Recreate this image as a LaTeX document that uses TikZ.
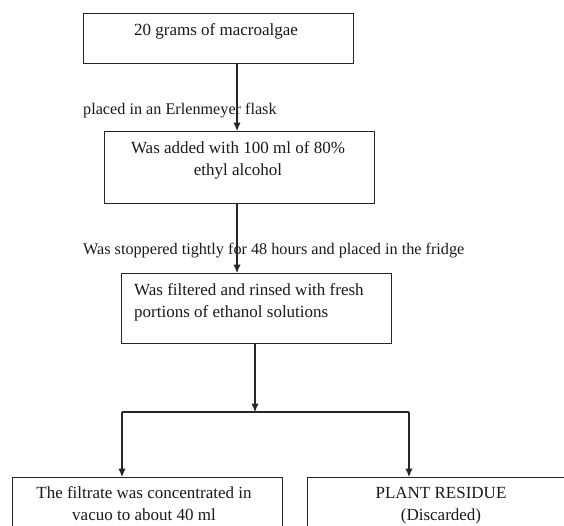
\documentclass[tikz,border=0pt]{standalone}
\usepackage{fontspec}
\setmainfont{Liberation Serif}
\usetikzlibrary{arrows.meta}
\begin{document}
\begin{tikzpicture}[x=1pt,y=-1pt,
  box/.style={draw=black!85, line width=1.1pt, rectangle, inner sep=0pt, minimum width=270pt, anchor=north west},
  txt/.style={inner sep=0pt, align=center, font=\fontsize{17}{22}\selectfont, text=black!90},
  ltxt/.style={inner sep=0pt, align=left, font=\fontsize{17}{22}\selectfont, text=black!90},
  lbl/.style={inner sep=0pt, anchor=base west, font=\fontsize{16.2}{20}\selectfont, text=black!90},
  arr/.style={draw=black!85, line width=1.1pt, -{Latex[length=8.5pt,width=7.5pt]}},
  ln/.style={draw=black!85, line width=1.1pt}]
\clip (0,0) rectangle (564,525);
\useasboundingbox (0,0) rectangle (564,525);
% boxes
\node[box, minimum height=50pt] (b1) at (83,13) {};
\node[box, minimum height=72pt] (b2) at (104,131) {};
\node[box, minimum height=70pt] (b3) at (121,273) {};
\node[box, minimum height=80pt] (b4) at (12,477) {};
\node[box, minimum height=80pt] (b5) at (307,477) {};
% texts
\node[txt, anchor=north] (t1) at (216,20.3) {\strut 20 grams of macroalgae};
\node[txt, anchor=north] (t2) at (238,138.2) {\strut Was added with 100 ml of 80\%\\ ethyl alcohol};
\node[ltxt, anchor=north west] (t3) at (134,280.2) {\strut Was filtered and rinsed with fresh\\ portions of ethanol solutions};
\node[txt, anchor=north] (t4) at (144,483.2) {\strut The filtrate was concentrated in\\ vacuo to about 40 ml};
\node[txt, anchor=north] (t5) at (441,483.2) {\strut PLANT RESIDUE\\ (Discarded)};
% labels
\node[lbl] (l1) at (83,114.6) {placed in an Erlenmeyer flask};
\node[lbl] (l2) at (83,254.6) {Was stoppered tightly for 48 hours and placed in the fridge};
% connectors
\coordinate (c1) at (237,0);
\coordinate (c3) at (255,0);
\coordinate (j) at (255,412);
\coordinate (jl) at (122,412);
\coordinate (jr) at (409,412);
\draw[arr] (b1.south -| c1) -- (b2.north -| c1);
\draw[arr] (b2.south -| c1) -- (b3.north -| c1);
\draw[arr] (b3.south -| c3) -- (j);
\draw[ln] (jl) -- (jr);
\draw[arr] (jl) -- (b4.north -| jl);
\draw[arr] (jr) -- (b5.north -| jr);
\end{tikzpicture}
\end{document}
